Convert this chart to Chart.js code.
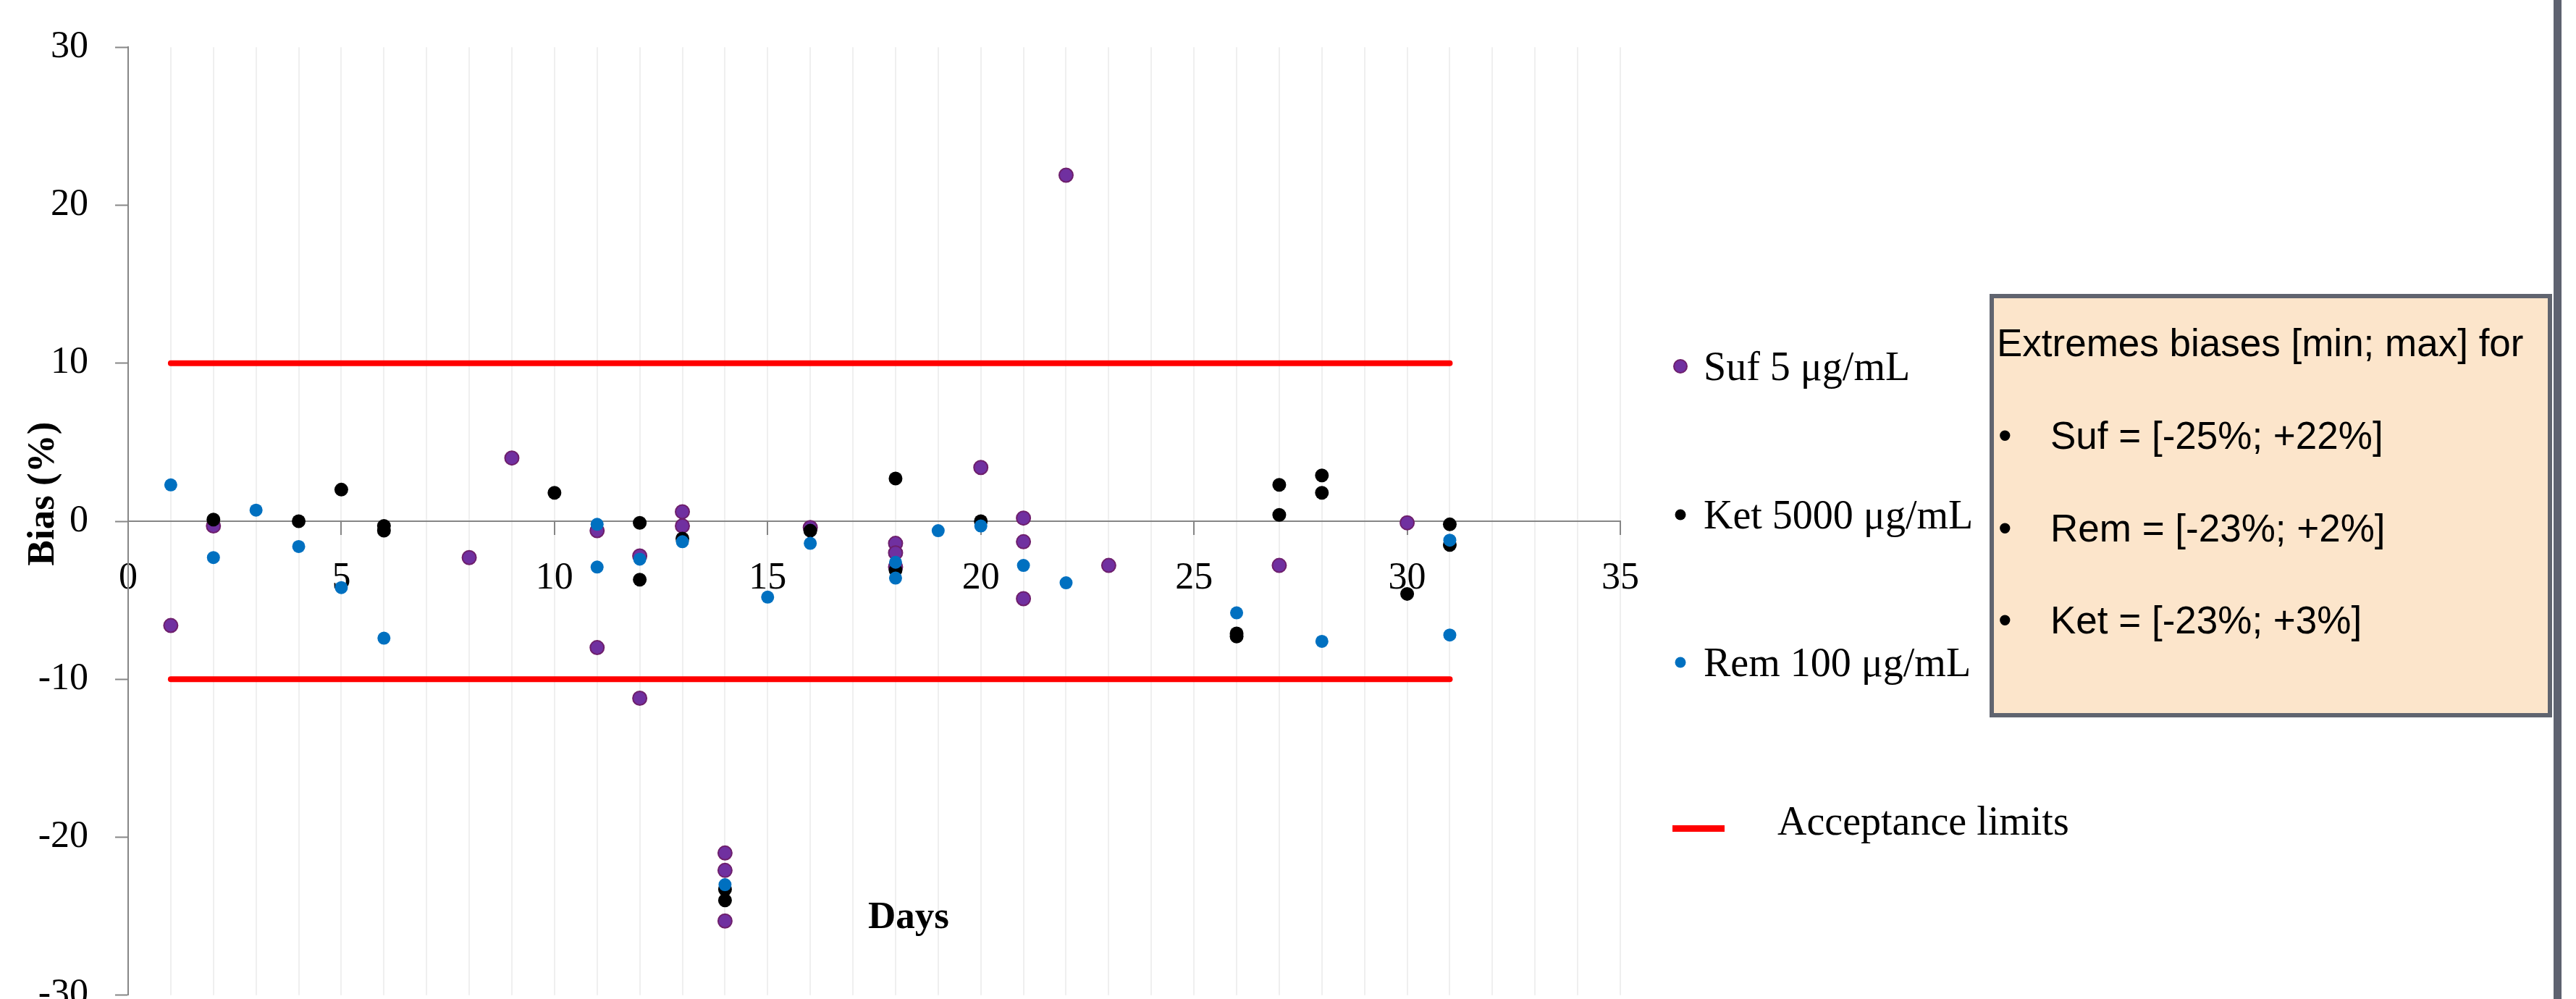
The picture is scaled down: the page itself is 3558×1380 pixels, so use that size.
<!DOCTYPE html>
<html>
<head>
<meta charset="utf-8">
<script src="https://cdn.jsdelivr.net/npm/chart.js@4/dist/chart.umd.min.js"></script>
<style>
  html, body { margin: 0; padding: 0; background: #fff; overflow: hidden; }
  #myChart { display: block; width: 3558px; height: 1446px; margin-top: -3px; }
</style>
</head>
<body>
<canvas id="myChart" width="3558" height="1446"></canvas>
<script>
// Suf 5 µg/mL
var sufDays = [1, 2, 8, 9, 11, 11, 12, 12, 13, 13, 14, 14, 14, 16, 18, 18, 18, 20, 21, 21, 21, 22, 23, 27, 30];
var sufBias = [-6.6, -0.3, -2.3, 4.0, -0.6, -8.0, -2.2, -11.2, 0.6, -0.3, -21.0, -22.1, -25.3, -0.4, -1.4, -2.0, -2.9, 3.4, 0.2, -1.3, -4.9, 21.9, -2.8, -2.8, -0.1];

// Ket 5000 µg/mL
var ketDays = [2, 4, 5, 6, 6, 10, 12, 12, 13, 14, 14, 16, 18, 18, 20, 26, 26, 27, 27, 28, 28, 30, 31, 31];
var ketBias = [0.1, 0.0, 2.0, -0.3, -0.6, 1.8, -0.1, -3.7, -1.1, -23.3, -24.0, -0.6, 2.7, -3.1, 0.0, -7.1, -7.3, 2.3, 0.4, 2.9, 1.8, -4.6, -0.2, -1.5];

// Rem 100 µg/mL
var remDays = [1, 2, 3, 4, 5, 6, 11, 11, 12, 13, 14, 15, 16, 18, 18, 19, 20, 21, 22, 26, 28, 31, 31];
var remBias = [2.3, -2.3, 0.7, -1.6, -4.2, -7.4, -0.2, -2.9, -2.4, -1.3, -23.0, -4.8, -1.4, -2.6, -3.6, -0.6, -0.3, -2.8, -3.9, -5.8, -7.6, -1.2, -7.2];

// acceptance limits
var limitDays = [1, 31];
var upperLimit = [10, 10];
var lowerLimit = [-10, -10];

var seriesNames = ['Suf 5 \u03bcg/mL', 'Ket 5000 \u03bcg/mL', 'Rem 100 \u03bcg/mL', 'Acceptance limits'];
var boxLines = ['Extremes biases [min; max] for', 'Suf = [-25%; +22%]', 'Rem = [-23%; +2%]', 'Ket = [-23%; +3%]'];

var PURPLE = '#7030A0';
var BLACK = '#000000';
var BLUE = '#0070C0';
var AXIS = '#868686';

// canvas sits 3px above the page top (see css), page coords + OFF = canvas coords
var OFF = 3;

function pts(xs, ys) {
    return xs.map(function (x, i) { return { x: x, y: ys[i] }; });
}

var serif = '"Liberation Serif", "Times New Roman", serif';

// legend, axis titles, text box
var decor = {
    id: 'decor',
    afterDraw: function (chart) {
        var ctx = chart.ctx;
        ctx.save();
        ctx.translate(0, OFF);

        // axis titles
        ctx.fillStyle = '#000';
        ctx.font = 'bold 53px ' + serif;
        ctx.textAlign = 'center';
        ctx.textBaseline = 'middle';
        ctx.fillText('Days', 1255, 1268);
        ctx.save();
        ctx.translate(60, 682);
        ctx.rotate(-Math.PI / 2);
        ctx.fillText('Bias (%)', 0, 0);
        ctx.restore();

        // legend
        var legY = [506, 711, 915];
        var legCol = [PURPLE, BLACK, BLUE];
        var legR = [9, 7.5, 7.5];
        ctx.font = '56px ' + serif;
        ctx.textAlign = 'left';
        for (var i = 0; i < 3; i++) {
            ctx.beginPath();
            ctx.arc(2321, legY[i], legR[i], 0, Math.PI * 2);
            ctx.fillStyle = legCol[i];
            ctx.fill();
            if (i === 0) {
                ctx.lineWidth = 2;
                ctx.strokeStyle = '#6E1F6C';
                ctx.stroke();
            }
            ctx.fillStyle = '#000';
            ctx.fillText(seriesNames[i], 2353, legY[i] + 4);
        }
        ctx.fillStyle = '#FF0000';
        ctx.fillRect(2310, 1140, 72, 9);
        ctx.fillStyle = '#000';
        ctx.fillText(seriesNames[3], 2455, 1138);

        // text box
        ctx.fillStyle = '#FCE5CB';
        ctx.fillRect(2751, 409, 771, 579);
        ctx.lineWidth = 6;
        ctx.strokeStyle = '#60646F';
        ctx.strokeRect(2751, 409, 771, 579);

        ctx.fillStyle = '#000';
        ctx.font = '53px "Liberation Sans", Arial, sans-serif';
        ctx.fillText(boxLines[0], 2758, 477);
        var lineY = [605, 733, 860];
        for (var j = 1; j < boxLines.length; j++) {
            ctx.fillText('\u2022', 2760, lineY[j - 1]);
            ctx.fillText(boxLines[j], 2832, lineY[j - 1]);
        }

        // right frame edge
        ctx.fillStyle = '#5E6270';
        ctx.fillRect(3527, -OFF, 11, 1446);

        ctx.restore();
    }
};

Chart.defaults.font.family = serif;
Chart.defaults.color = '#000';

var ctx = document.getElementById('myChart').getContext('2d');
var myChart = new Chart(ctx, {
    type: 'scatter',
    data: {
        datasets: [{
            label: seriesNames[0],
            data: pts(sufDays, sufBias),
            backgroundColor: PURPLE,
            borderColor: '#6E1F6C',
            borderWidth: 2,
            pointRadius: 9.5,
            pointHoverRadius: 9.5,
            order: 3
        }, {
            label: seriesNames[1],
            data: pts(ketDays, ketBias),
            backgroundColor: BLACK,
            borderColor: BLACK,
            borderWidth: 0,
            pointRadius: 9.5,
            pointHoverRadius: 9.5,
            order: 2
        }, {
            label: seriesNames[2],
            data: pts(remDays, remBias),
            backgroundColor: BLUE,
            borderColor: BLUE,
            borderWidth: 0,
            pointRadius: 9,
            pointHoverRadius: 9,
            order: 1
        }, {
            label: seriesNames[3],
            data: pts(limitDays, upperLimit),
            showLine: true,
            borderColor: '#FF0000',
            borderWidth: 8,
            borderCapStyle: 'round',
            pointRadius: 0,
            order: 4
        }, {
            label: seriesNames[3],
            data: pts(limitDays, lowerLimit),
            showLine: true,
            borderColor: '#FF0000',
            borderWidth: 8,
            borderCapStyle: 'round',
            pointRadius: 0,
            order: 4
        }]
    },
    options: {
        responsive: false,
        animation: false,
        devicePixelRatio: 1,
        layout: {
            padding: { left: 0, right: 1320, top: 60, bottom: 60 }
        },
        plugins: {
            legend: { display: false },
            tooltip: { enabled: false }
        },
        scales: {
            x: {
                type: 'linear',
                position: { y: 0 },
                min: 0,
                max: 35,
                grid: {
                    color: '#EFEFEF',
                    lineWidth: 2,
                    tickLength: 18,
                    tickWidth: 2,
                    tickColor: function (c) {
                        return c.tick && c.tick.value % 5 === 0 ? AXIS : 'rgba(0,0,0,0)';
                    }
                },
                border: { color: AXIS, width: 2 },
                ticks: {
                    stepSize: 1,
                    autoSkip: false,
                    maxRotation: 0,
                    padding: 30,
                    font: { size: 52 },
                    callback: function (v) { return v % 5 === 0 ? String(v) : ''; }
                }
            },
            y: {
                min: -30,
                max: 30,
                afterFit: function (s) { s.width = 177; },
                grid: {
                    drawOnChartArea: false,
                    tickLength: 18,
                    tickWidth: 2,
                    tickColor: AXIS
                },
                border: { color: AXIS, width: 2 },
                ticks: {
                    stepSize: 10,
                    padding: 37,
                    font: { size: 52 }
                }
            }
        }
    },
    plugins: [decor]
});
</script>
</body>
</html>
